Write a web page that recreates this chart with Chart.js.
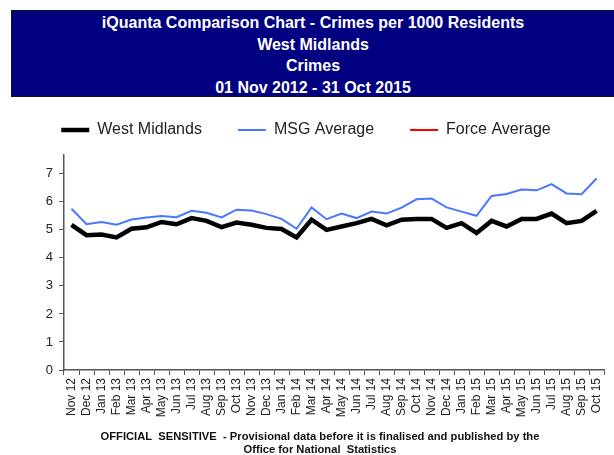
<!DOCTYPE html>
<html>
<head>
<meta charset="utf-8">
<script src="https://cdn.jsdelivr.net/npm/chart.js@4.4.1/dist/chart.umd.min.js"></script>
<style>
  body { margin: 0; width: 614px; height: 455px; overflow: hidden; background: #fff; position: relative;
         font-family: Arial, "Liberation Sans", sans-serif; }
  #header { position: absolute; left: 11px; top: 10px; width: 603px; height: 87px; box-sizing: border-box;
            background: #000080; border: 1px solid #111; border-right: none; color: #fff; font-weight: bold;
            font-size: 16px; line-height: 21.7px; text-align: center; padding-top: 1px; }
  #chartBox { position: absolute; left: 0; top: 0; }
  #footer { position: absolute; left: 0; top: 430px; width: 614px; box-sizing: border-box; padding-left: 26px;
            text-align: center; font-weight: bold; font-size: 11.2px; line-height: 13px; color: #111; }
</style>
</head>
<body>
<div id="chartBox"><canvas id="chart" width="614" height="455"></canvas></div>
<div id="header">
  iQuanta Comparison Chart - Crimes per 1000 Residents<br>
  West Midlands<br>
  Crimes<br>
  01 Nov 2012 - 31 Oct 2015
</div>
<div id="footer">
  OFFICIAL&nbsp; SENSITIVE &nbsp;- Provisional data before it is finalised and published by the<br>
  Office for National&nbsp; Statistics
</div>
<script>
// months on the x axis
const months = [
  'Nov 12', 'Dec 12',
  'Jan 13', 'Feb 13', 'Mar 13', 'Apr 13', 'May 13', 'Jun 13', 'Jul 13', 'Aug 13', 'Sep 13', 'Oct 13', 'Nov 13', 'Dec 13',
  'Jan 14', 'Feb 14', 'Mar 14', 'Apr 14', 'May 14', 'Jun 14', 'Jul 14', 'Aug 14', 'Sep 14', 'Oct 14', 'Nov 14', 'Dec 14',
  'Jan 15', 'Feb 15', 'Mar 15', 'Apr 15', 'May 15', 'Jun 15', 'Jul 15', 'Aug 15', 'Sep 15', 'Oct 15'
];

// crimes per 1000 residents
const westMidlands = [
  5.18, 4.81,
  4.83, 4.73, 5.04, 5.09, 5.28, 5.20, 5.42, 5.32, 5.10, 5.26, 5.18, 5.07,
  5.03, 4.73, 5.36, 5.00, 5.12, 5.24, 5.39, 5.16, 5.36, 5.39, 5.39, 5.07,
  5.24, 4.89, 5.32, 5.12, 5.39, 5.39, 5.58, 5.24, 5.32, 5.68
];
const msgAverage = [
  5.75, 5.20,
  5.28, 5.18, 5.37, 5.44, 5.49, 5.45, 5.68, 5.61, 5.44, 5.72, 5.69, 5.56,
  5.39, 5.04, 5.80, 5.38, 5.58, 5.42, 5.65, 5.58, 5.79, 6.09, 6.12, 5.80,
  5.65, 5.50, 6.21, 6.28, 6.44, 6.41, 6.63, 6.30, 6.27, 6.83
];
const forceAverage = []; // no values shown in the chart

const yTicks = [0, 1, 2, 3, 4, 5, 6, 7];

const axisColor = '#555';
const textColor = '#222';

// push the plot a bit further below the legend
const legendGap = {
  id: 'legendGap',
  beforeLayout(chart) {
    const lg = chart.legend;
    if (!lg || lg._gapPatched) return;
    const fit = lg.fit;
    lg.fit = function () { fit.call(this); this.height += 7; };
    lg._gapPatched = true;
  }
};

new Chart(document.getElementById('chart'), {
  type: 'line',
  data: {
    labels: months,
    datasets: [
      { label: 'West Midlands', data: westMidlands, borderColor: '#000', backgroundColor: '#000', borderWidth: 4.5, pointRadius: 0, tension: 0 },
      { label: 'MSG Average', data: msgAverage, borderColor: '#4878ff', backgroundColor: '#4878ff', borderWidth: 2, pointRadius: 0, tension: 0 },
      { label: 'Force Average', data: forceAverage, borderColor: '#ff0000', backgroundColor: '#ff0000', borderWidth: 2, pointRadius: 0, tension: 0 }
    ]
  },
  plugins: [legendGap],
  options: {
    responsive: false,
    animation: false,
    layout: { padding: { left: 0, right: 2, top: 86, bottom: 0 } },
    plugins: {
      tooltip: { enabled: false },
      legend: {
        display: true,
        position: 'top',
        labels: {
          usePointStyle: true,
          pointStyle: 'line',
          pointStyleWidth: 28,
          padding: 36,
          color: textColor,
          font: { family: 'Arial, "Liberation Sans", sans-serif', size: 16 }
        }
      }
    },
    scales: {
      x: {
        offset: true,
        grid: { offset: true, drawOnChartArea: false, tickLength: 5, color: axisColor },
        border: { color: axisColor, width: 1.5 },
        ticks: {
          autoSkip: false, minRotation: 90, maxRotation: 90, padding: 3, color: textColor,
          font: { family: 'Arial, "Liberation Sans", sans-serif', size: 12 }
        },
        afterFit: (axis) => { axis.height = 85; }
      },
      y: {
        min: 0,
        max: 7.67,
        grid: { drawOnChartArea: false, tickLength: 5, color: axisColor },
        border: { color: axisColor, width: 1.5 },
        ticks: {
          stepSize: 1, padding: 6, color: textColor,
          font: { family: 'Arial, "Liberation Sans", sans-serif', size: 13 }
        },
        afterBuildTicks: (axis) => { axis.ticks = yTicks.map(v => ({ value: v })); },
        afterFit: (axis) => { axis.width = 64; }
      }
    }
  }
});
</script>
</body>
</html>
